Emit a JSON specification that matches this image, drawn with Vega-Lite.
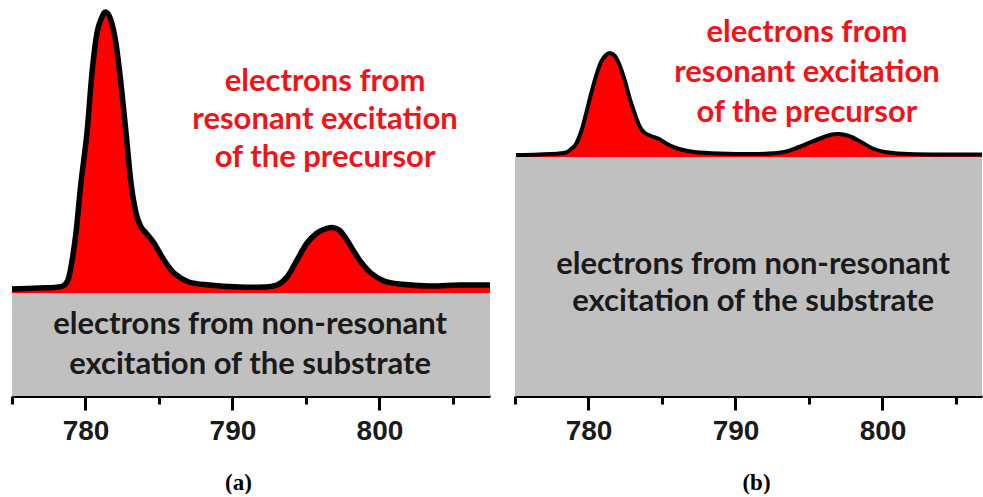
{
  "$schema": "https://vega.github.io/schema/vega-lite/v6.json",
  "padding": {"left": 1, "top": 0, "right": 0, "bottom": 0},
  "background": "white",
  "config": {
    "view": {"stroke": null},
    "axis": {
      "labelFont": "Liberation Sans",
      "labelFontWeight": "bold",
      "labelFontSize": 28,
      "labelColor": "#1a1a1a",
      "labelPadding": 7,
      "domainColor": "#000000",
      "domainWidth": 3,
      "tickColor": "#000000",
      "tickWidth": 3,
      "grid": false,
      "titleFont": "Liberation Serif",
      "titleFontSize": 23,
      "titleFontWeight": "bold",
      "titleColor": "#000000",
      "titlePadding": 26
    }
  },
  "datasets": {
    "a": [
      {"e": 775.00, "v": 107}, {"e": 776.84, "v": 108}, {"e": 778.20, "v": 109},
      {"e": 778.74, "v": 114}, {"e": 779.01, "v": 129}, {"e": 779.35, "v": 163},
      {"e": 779.69, "v": 213}, {"e": 780.10, "v": 263}, {"e": 780.44, "v": 323},
      {"e": 780.78, "v": 363}, {"e": 781.12, "v": 379}, {"e": 781.39, "v": 384},
      {"e": 781.73, "v": 376}, {"e": 782.07, "v": 353}, {"e": 782.41, "v": 313},
      {"e": 782.76, "v": 263}, {"e": 783.10, "v": 213}, {"e": 783.44, "v": 183},
      {"e": 783.78, "v": 169}, {"e": 784.12, "v": 163}, {"e": 784.66, "v": 153},
      {"e": 785.34, "v": 136}, {"e": 786.02, "v": 123}, {"e": 787.04, "v": 114},
      {"e": 788.40, "v": 111}, {"e": 790.44, "v": 109}, {"e": 792.14, "v": 109},
      {"e": 793.03, "v": 111}, {"e": 793.71, "v": 119}, {"e": 794.39, "v": 136},
      {"e": 795.07, "v": 153}, {"e": 795.75, "v": 163}, {"e": 796.30, "v": 167},
      {"e": 796.75, "v": 168.5}, {"e": 797.25, "v": 166}, {"e": 797.75, "v": 157},
      {"e": 798.20, "v": 146}, {"e": 798.74, "v": 134}, {"e": 799.42, "v": 123},
      {"e": 800.31, "v": 115}, {"e": 801.33, "v": 112}, {"e": 803.37, "v": 110},
      {"e": 805.41, "v": 111}, {"e": 807.52, "v": 111}
    ],
    "b": [
      {"e": 775.07, "v": 241}, {"e": 776.63, "v": 241.5}, {"e": 778.33, "v": 243},
      {"e": 778.81, "v": 247}, {"e": 779.15, "v": 252}, {"e": 779.49, "v": 264},
      {"e": 779.83, "v": 282}, {"e": 780.17, "v": 302}, {"e": 780.51, "v": 320},
      {"e": 780.85, "v": 334}, {"e": 781.19, "v": 341}, {"e": 781.46, "v": 343},
      {"e": 781.80, "v": 340}, {"e": 782.14, "v": 330}, {"e": 782.48, "v": 315},
      {"e": 782.82, "v": 297}, {"e": 783.16, "v": 282}, {"e": 783.50, "v": 269},
      {"e": 783.84, "v": 263}, {"e": 784.25, "v": 260}, {"e": 784.80, "v": 257},
      {"e": 785.34, "v": 252}, {"e": 786.16, "v": 247}, {"e": 787.18, "v": 244},
      {"e": 788.88, "v": 242.5}, {"e": 791.60, "v": 242}, {"e": 793.30, "v": 244},
      {"e": 794.32, "v": 249}, {"e": 795.14, "v": 254}, {"e": 796.02, "v": 259},
      {"e": 796.55, "v": 261.5}, {"e": 797.05, "v": 262}, {"e": 797.72, "v": 260},
      {"e": 798.54, "v": 254}, {"e": 799.42, "v": 247}, {"e": 800.44, "v": 243.5},
      {"e": 801.80, "v": 242}, {"e": 804.52, "v": 241.5}, {"e": 806.77, "v": 241.5}
    ]
  },
  "spacing": 7,
  "hconcat": [
    {
      "width": 478,
      "height": 396,
      "layer": [
        {
          "data": {"values": [{"x1": 775, "x2": 807.52, "y1": 0, "y2": 103}]},
          "mark": {"type": "rect", "color": "#c0c0c0"},
          "encoding": {
            "x": {"field": "x1", "type": "quantitative",
              "scale": {"domain": [775, 807.52], "nice": false, "zero": false},
              "axis": {
                "title": "(a)",
                "titleX": 226,
                "values": [775, 780, 785, 790, 795, 800, 805],
                "labelExpr": "datum.value % 10 === 0 ? datum.label : ''",
                "tickSize": {"condition": {"test": "datum.value % 10 === 0", "value": 14}, "value": 8}
              }},
            "x2": {"field": "x2"},
            "y": {"field": "y1", "type": "quantitative", "scale": {"domain": [0, 396], "nice": false}, "axis": null},
            "y2": {"field": "y2"}
          }
        },
        {
          "data": {"name": "a"},
          "mark": {"type": "area", "color": "#ff0000", "interpolate": "cardinal"},
          "encoding": {
            "x": {"field": "e", "type": "quantitative"},
            "y": {"field": "v", "type": "quantitative"},
            "y2": {"datum": 103}
          }
        },
        {
          "data": {"name": "a"},
          "mark": {"type": "line", "color": "#000000", "strokeWidth": 5.5, "interpolate": "cardinal"},
          "encoding": {
            "x": {"field": "e", "type": "quantitative"},
            "y": {"field": "v", "type": "quantitative"}
          }
        },
        {
          "data": {"values": [{"e": 796.3, "v": 314, "t": "electrons from\nresonant excitation\nof the precursor"}]},
          "mark": {"type": "text", "font": "Lato", "fontWeight": "bold", "fontSize": 31, "color": "#f01418", "lineBreak": "\n", "lineHeight": 38, "align": "center", "baseline": "middle"},
          "encoding": {
            "x": {"field": "e", "type": "quantitative"},
            "y": {"field": "v", "type": "quantitative"},
            "text": {"field": "t", "type": "nominal"}
          }
        },
        {
          "data": {"values": [{"e": 791.2, "v": 71, "t": "electrons from non-resonant\nexcitation of the substrate"}]},
          "mark": {"type": "text", "font": "Lato", "fontWeight": "bold", "fontSize": 31, "color": "#1a1a1a", "lineBreak": "\n", "lineHeight": 40, "align": "center", "baseline": "middle"},
          "encoding": {
            "x": {"field": "e", "type": "quantitative"},
            "y": {"field": "v", "type": "quantitative"},
            "text": {"field": "t", "type": "nominal"}
          }
        }
      ]
    },
    {
      "width": 467,
      "height": 396,
      "layer": [
        {
          "data": {"values": [{"x1": 775, "x2": 806.77, "y1": 0, "y2": 239}]},
          "mark": {"type": "rect", "color": "#c0c0c0"},
          "encoding": {
            "x": {"field": "x1", "type": "quantitative",
              "scale": {"domain": [775, 806.77], "nice": false, "zero": false},
              "axis": {
                "title": "(b)",
                "titleX": 241,
                "values": [775, 780, 785, 790, 795, 800, 805],
                "labelExpr": "datum.value % 10 === 0 ? datum.label : ''",
                "tickSize": {"condition": {"test": "datum.value % 10 === 0", "value": 14}, "value": 8}
              }},
            "x2": {"field": "x2"},
            "y": {"field": "y1", "type": "quantitative", "scale": {"domain": [0, 396], "nice": false}, "axis": null},
            "y2": {"field": "y2"}
          }
        },
        {
          "data": {"name": "b"},
          "mark": {"type": "area", "color": "#ff0000", "interpolate": "cardinal"},
          "encoding": {
            "x": {"field": "e", "type": "quantitative"},
            "y": {"field": "v", "type": "quantitative"},
            "y2": {"datum": 239}
          }
        },
        {
          "data": {"name": "b"},
          "mark": {"type": "line", "color": "#000000", "strokeWidth": 4, "interpolate": "cardinal"},
          "encoding": {
            "x": {"field": "e", "type": "quantitative"},
            "y": {"field": "v", "type": "quantitative"}
          }
        },
        {
          "data": {"values": [{"e": 794.86, "v": 363, "t": "electrons from\nresonant excitation\nof the precursor"}]},
          "mark": {"type": "text", "font": "Lato", "fontWeight": "bold", "fontSize": 31, "color": "#f01418", "lineBreak": "\n", "lineHeight": 40, "align": "center", "baseline": "middle"},
          "encoding": {
            "x": {"field": "e", "type": "quantitative"},
            "y": {"field": "v", "type": "quantitative"},
            "text": {"field": "t", "type": "nominal"}
          }
        },
        {
          "data": {"values": [{"e": 791.2, "v": 131, "t": "electrons from non-resonant\nexcitation of the substrate"}]},
          "mark": {"type": "text", "font": "Lato", "fontWeight": "bold", "fontSize": 31, "color": "#1a1a1a", "lineBreak": "\n", "lineHeight": 37, "align": "center", "baseline": "middle"},
          "encoding": {
            "x": {"field": "e", "type": "quantitative"},
            "y": {"field": "v", "type": "quantitative"},
            "text": {"field": "t", "type": "nominal"}
          }
        }
      ]
    }
  ]
}
